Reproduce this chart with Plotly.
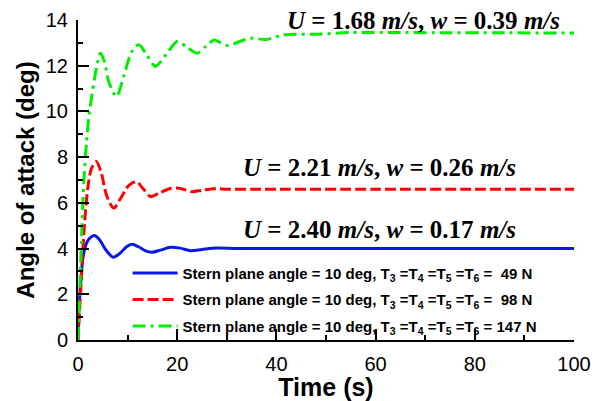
import plotly.graph_objects as go

# Time histories of angle of attack for three thrust levels
t_49 = [0, 0.2, 0.6, 1.0, 1.5, 2.0, 2.6, 3.3, 4.3, 5.6, 7.1, 8.5, 9.8, 10.9, 12.2,
        13.6, 14.9, 16.6, 18.6, 20.6, 22.7, 25, 28, 32, 40, 60, 80, 100]
aoa_49 = [0, 1.3, 2.7, 3.6, 4.1, 4.35, 4.5, 4.57, 4.4, 3.95, 3.62, 3.8, 4.08, 4.19, 4.08,
          3.9, 3.84, 3.93, 4.06, 4.02, 3.91, 3.96, 4.02, 4.0, 4.0, 4.0, 4.0, 4.0]

t_98 = [0, 0.5, 1.0, 1.5, 2.0, 2.7, 3.7, 4.7, 5.8, 7.2, 8.6, 10.2, 11.8, 13.2, 14.6,
        16.5, 18.5, 20, 21.5, 23, 25, 27.5, 30, 35, 40, 60, 80, 100]
aoa_98 = [0, 2.0, 4.0, 5.6, 6.7, 7.5, 7.81, 7.3, 6.3, 5.77, 6.2, 6.75, 6.93, 6.6, 6.28,
          6.45, 6.62, 6.65, 6.58, 6.49, 6.55, 6.62, 6.6, 6.6, 6.6, 6.6, 6.6, 6.6]

t_147 = [0, 0.4, 0.8, 1.2, 1.7, 2.2, 2.8, 3.3, 3.9, 4.5, 5.3, 6.2, 7.75, 9.3, 10.8,
         12.25, 13.8, 15.6, 17.8, 20, 22, 24, 25.8, 27.4, 28.8, 30.3, 32.5, 34.7, 38,
         41.4, 48, 55, 65, 75, 85, 100]
aoa_147 = [0, 2.5, 5.0, 7.0, 8.6, 9.8, 10.7, 11.4, 12.1, 12.55, 12.2, 11.3, 10.65, 11.6, 12.6,
           12.92, 12.5, 11.97, 12.5, 13.06, 12.8, 12.55, 12.85, 13.13, 13.0, 12.88, 13.05, 13.2, 13.15,
           13.35, 13.38, 13.45, 13.45, 13.44, 13.44, 13.43]

legend_49 = "Stern plane angle = 10 deg, T<sub>3</sub> =T<sub>4</sub> =T<sub>5</sub> =T<sub>6</sub> =  49 N"
legend_98 = "Stern plane angle = 10 deg, T<sub>3</sub> =T<sub>4</sub> =T<sub>5</sub> =T<sub>6</sub> =  98 N"
legend_147 = "Stern plane angle = 10 deg, T<sub>3</sub> =T<sub>4</sub> =T<sub>5</sub> =T<sub>6</sub> = 147 N"

label_49 = "<i>U</i> = 2.40 <i>m/s</i>, <i>w</i> = 0.17 <i>m/s</i>"
label_98 = "<i>U</i> = 2.21 <i>m/s</i>, <i>w</i> = 0.26 <i>m/s</i>"
label_147 = "<i>U</i> = 1.68 <i>m/s</i>, <i>w</i> = 0.39 <i>m/s</i>"

fig = go.Figure()
fig.add_trace(go.Scatter(x=t_49, y=aoa_49, mode="lines", name=legend_49, legendgroup="a",
                         line=dict(color="#0a18e6", width=3, shape="spline", smoothing=0.8)))
fig.add_trace(go.Scatter(x=t_98, y=aoa_98, mode="lines", name=legend_98, legendgroup="b",
                         line=dict(color="#ff0000", width=3, dash="11px,4px", shape="spline", smoothing=0.8)))
fig.add_trace(go.Scatter(x=t_147, y=aoa_147, mode="lines", name=legend_147, legendgroup="c",
                         line=dict(color="#00ee00", width=3, dash="13px,5px,3px,5px", shape="spline", smoothing=0.8)))

serif = dict(family="Liberation Serif", size=25, color="black")
# (text, x in data units, y in paper units of the plot area)
for txt, xv, yv in [(label_147, 41.8, 1.0), (label_98, 32.8, 7.55 / 14), (label_49, 32.8, 4.85 / 14)]:
    fig.add_annotation(x=xv, y=yv, xref="x", yref="paper", text="<b>" + txt + "</b>",
                       showarrow=False, xanchor="left", yanchor="middle", font=serif)

axis_common = dict(
    showline=True, linecolor="black", linewidth=2, mirror=False,
    ticks="inside", ticklen=11, tickwidth=2, tickcolor="black",
    showgrid=False, zeroline=False, automargin=False,
    tickfont=dict(family="Liberation Sans", size=20, color="black"),
)

fig.update_xaxes(range=[0, 100], dtick=20, tick0=0, ticklabelstandoff=5,
                 minor=dict(ticks="inside", ticklen=5, tickwidth=2, tickcolor="black", dtick=10),
                 title=dict(text="<b>Time (s)</b>", font=dict(family="Liberation Sans", size=25, color="black"),
                            standoff=9),
                 **axis_common)
fig.update_yaxes(range=[0, 14], dtick=2, tick0=0, ticklabelstandoff=4,
                 minor=dict(ticks="inside", ticklen=5, tickwidth=2, tickcolor="black", dtick=1),
                 title=dict(text="<b>Angle of attack (deg)</b>", font=dict(family="Liberation Sans", size=24, color="black"),
                            standoff=4),
                 **axis_common)

fig.update_layout(
    width=603, height=401,
    margin=dict(l=78, r=29, t=20, b=61),
    plot_bgcolor="white", paper_bgcolor="white",
    showlegend=True,
    legend=dict(x=0.1, y=0.26, xanchor="left", yanchor="top", bgcolor="rgba(0,0,0,0)",
                font=dict(family="Liberation Sans", size=15, color="black", weight="bold"),
                tracegroupgap=4, itemwidth=45),
)

fig.write_html("out.html")
